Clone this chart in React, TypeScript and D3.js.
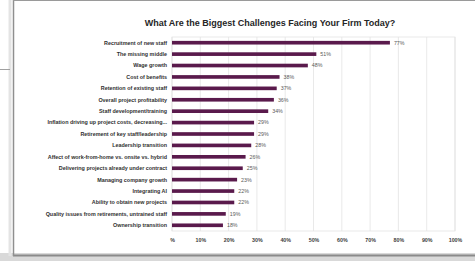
import { useEffect, useRef } from "react";
import * as d3 from "d3";

const categories = [
  "Recruitment of new staff",
  "The missing middle",
  "Wage growth",
  "Cost of benefits",
  "Retention of existing staff",
  "Overall project profitability",
  "Staff development/training",
  "Inflation driving up project costs, decreasing...",
  "Retirement of key staff/leadership",
  "Leadership transition",
  "Affect of work-from-home vs. onsite vs. hybrid",
  "Delivering projects already under contract",
  "Managing company growth",
  "Integrating AI",
  "Ability to obtain new projects",
  "Quality issues from retirements, untrained staff",
  "Ownership transition",
];
const values = [77, 51, 48, 38, 37, 36, 34, 29, 29, 28, 26, 25, 23, 22, 22, 19, 18];
const tickValues = [0, 10, 20, 30, 40, 50, 60, 70, 80, 90, 100];
const tickLabels = ["%", "10%", "20%", "30%", "40%", "50%", "60%", "70%", "80%", "90%", "100%"];
const title = "What Are the Biggest Challenges Facing Your Firm Today?";

const W = 475;
const H = 261;
const margin = { top: 37, right: 20, bottom: 30, left: 172 };

export default function App() {
  const ref = useRef<SVGSVGElement>(null);

  useEffect(() => {
    const svg = d3.select(ref.current);
    svg.selectAll("*").remove();

    // frame around the screenshot
    svg.append("rect").attr("width", W).attr("height", H).attr("fill", "#ffffff");
    svg.append("rect").attr("x", 0).attr("y", 253).attr("width", W).attr("height", 8).attr("fill", "#d9d9d9");
    svg.append("line").attr("x1", 13).attr("x2", W).attr("y1", 255.5).attr("y2", 255.5).attr("stroke", "#8a8a8a").attr("stroke-width", 2);
    svg.append("line").attr("x1", 13.5).attr("x2", 13.5).attr("y1", 0).attr("y2", 256).attr("stroke", "#8f8f8f").attr("stroke-width", 1.5);
    svg.append("line").attr("x1", 10).attr("x2", 10).attr("y1", 0).attr("y2", 256).attr("stroke", "#e4e4e4").attr("stroke-width", 3);
    svg.append("line").attr("x1", 13).attr("x2", W).attr("y1", 0.5).attr("y2", 0.5).attr("stroke", "#9a9a9a");
    svg.append("line").attr("x1", 0).attr("x2", 10).attr("y1", 69.5).attr("y2", 69.5).attr("stroke", "#a0a0a0");

    const x = d3.scaleLinear().domain([0, 100]).range([margin.left, W - margin.right]);
    const y = d3
      .scaleBand<string>()
      .domain(categories)
      .range([margin.top, H - margin.bottom])
      .paddingInner(0.68)
      .paddingOuter(0.34);

    // gridlines + border of plot area
    svg
      .append("g")
      .selectAll("line")
      .data(tickValues)
      .join("line")
      .attr("x1", (d) => x(d))
      .attr("x2", (d) => x(d))
      .attr("y1", margin.top)
      .attr("y2", H - margin.bottom)
      .attr("stroke", "#e3e3e3")
      .attr("stroke-width", 0.8);
    svg
      .append("rect")
      .attr("x", x(0))
      .attr("y", margin.top)
      .attr("width", x(100) - x(0))
      .attr("height", H - margin.bottom - margin.top)
      .attr("fill", "none")
      .attr("stroke", "#e3e3e3")
      .attr("stroke-width", 0.8);

    svg
      .append("text")
      .attr("x", 270)
      .attr("y", 26)
      .attr("text-anchor", "middle")
      .attr("font-family", "Liberation Sans, Arial, sans-serif")
      .attr("font-weight", "bold")
      .attr("font-size", 9)
      .attr("fill", "#262626")
      .text(title);

    svg
      .append("g")
      .selectAll("rect")
      .data(values)
      .join("rect")
      .attr("x", x(0))
      .attr("y", (d, i) => y(categories[i])!)
      .attr("width", (d) => x(d) - x(0))
      .attr("height", y.bandwidth())
      .attr("fill", "#5a1a4c");

    svg
      .append("g")
      .selectAll("text")
      .data(values)
      .join("text")
      .attr("x", (d) => x(d) + 4)
      .attr("y", (d, i) => y(categories[i])! + y.bandwidth() / 2)
      .attr("dy", "0.35em")
      .attr("font-family", "Liberation Sans, Arial, sans-serif")
      .attr("font-size", 5.3)
      .attr("fill", "#595959")
      .text((d) => d + "%");

    svg
      .append("g")
      .selectAll("text")
      .data(categories)
      .join("text")
      .attr("x", margin.left - 5)
      .attr("y", (d) => y(d)! + y.bandwidth() / 2)
      .attr("dy", "0.35em")
      .attr("text-anchor", "end")
      .attr("font-family", "Liberation Sans, Arial, sans-serif")
      .attr("font-weight", "bold")
      .attr("font-size", 5.4)
      .attr("fill", "#303030")
      .text((d) => d);

    const axis = d3
      .axisBottom(x)
      .tickValues(tickValues)
      .tickSize(0)
      .tickPadding(7)
      .tickFormat((d, i) => tickLabels[i]);
    const ax = svg
      .append("g")
      .attr("transform", `translate(0,${H - margin.bottom})`)
      .call(axis);
    ax.select(".domain").remove();
    ax.selectAll("text")
      .attr("font-family", "Liberation Sans, Arial, sans-serif")
      .attr("font-weight", "bold")
      .attr("font-size", 5.3)
      .attr("fill", "#404040");
  }, []);

  return (
    <svg
      ref={ref}
      width={W}
      height={H}
      style={{ position: "absolute", left: 0, top: 0, display: "block" }}
    />
  );
}
